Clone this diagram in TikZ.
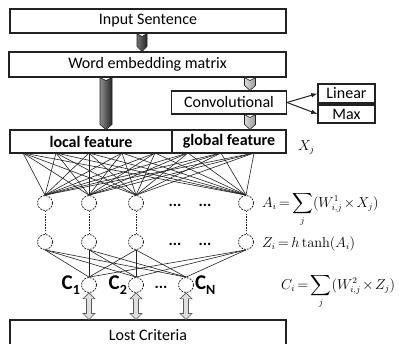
\documentclass[tikz,border=0pt]{standalone}
\usepackage{amsmath}
\usepackage[no-math]{fontspec}
\setmainfont{Carlito}
\usepackage{tikz}
\usetikzlibrary{arrows.meta,calc}
\definecolor{ink}{HTML}{222222}

\newcommand\tightmath{\thickmuskip=3mu\relax\medmuskip=2mu\relax}
% shaded block arrow with a notch on top
\newcommand\pencil[6]{%
  \shade[left color=#4, middle color=#5, right color=#6, draw=ink, line width=0.6pt]
    let \p1=#1, \p2=#2 in
    (\x1-#3,\y1) -- (\x1,\y1-3pt) -- (\x1+#3,\y1) -- (\x1+#3,\y2+5pt)
    -- (\x1,\y2) -- (\x1-#3,\y2+5pt) -- cycle;}
% hollow two-headed arrow
\newcommand\twoway[2]{%
  \filldraw[fill=gray!25, draw=ink!75, line width=0.6pt]
    let \p1=#1, \p2=#2 in
    (\x1,\y1) -- (\x1+6pt,\y1-6pt) -- (\x1+2.5pt,\y1-6pt) -- (\x1+2.5pt,\y2+6pt)
    -- (\x1+6pt,\y2+6pt) -- (\x1,\y2) -- (\x1-6pt,\y2+6pt) -- (\x1-2.5pt,\y2+6pt)
    -- (\x1-2.5pt,\y1-6pt) -- (\x1-6pt,\y1-6pt) -- cycle;}

\begin{document}
\begin{tikzpicture}[x=1pt, y=-1pt,
  font=\fontsize{16}{18}\selectfont,
  box/.style={draw=ink, line width=1.1pt, fill=white, minimum height=23pt, inner sep=0pt},
  unit/.style={circle, draw=ink, dash pattern=on 1.8pt off 1.2pt, line width=0.8pt, fill=white, minimum size=15pt, inner sep=0pt},
  link/.style={draw=ink, line width=0.6pt},
  arrow/.style={-{Latex[length=2.2mm]}, draw=ink, line width=1pt},
  eqn/.style={anchor=base west, inner sep=0pt, font=\fontsize{13.5}{16}\selectfont},
  dots/.style={anchor=base, inner sep=0pt, font=\fontsize{16}{18}\selectfont\bfseries}
]
\useasboundingbox (0,0) rectangle (399,343);

\node[box, minimum width=276pt, minimum height=24pt] (inp) at (148,21) {Input Sentence};
\node[box, minimum width=277pt, minimum height=25pt] (emb) at (147.5,64.5) {Word embedding matrix};
\node[box, minimum width=115pt] (conv) at (229,102.5) {Convolutional};
\node[box, minimum width=57pt, minimum height=19pt] (lin) at (346.5,93.5) {Linear};
\node[box, minimum width=57pt, minimum height=18pt] (max) at (346.5,114) {Max};
\node[box, minimum width=162pt] (loc) at (91,141.5) {\bfseries local feature};
\node[box, minimum width=114pt] (glob) at (229,141.5) {\bfseries global feature};
\node[box, minimum width=276pt, minimum height=30pt] (lost) at (148,335) {Lost Criteria};

\draw[arrow] (conv.east) -- (lin.west);
\draw[arrow] (conv.east) -- (max.west);

\pencil{([xshift=-6pt]inp.south)}{(emb.north)}{5pt}{black!55}{black!25}{black!85}
\pencil{([xshift=-41.5pt]emb.south)}{(loc.north)}{6pt}{black!45}{black!20}{black!85}
\pencil{([xshift=102.5pt]emb.south)}{(conv.north)}{5.5pt}{black!15}{black!5}{black!40}
\pencil{([xshift=21pt]conv.south)}{(glob.north)}{5.5pt}{black!15}{black!5}{black!40}

\node[eqn] (xj) at (298,150) {$X_j$};

% hidden units
\foreach \i/\x in {1/45,2/89,3/136,4/246} {
  \node[unit] (a\i) at (\x,203) {};
  \node[unit] (z\i) at (\x,242) {};
  \draw[link, dash pattern=on 1.5pt off 1.2pt] (a\i.south) -- (z\i.north);
}
\foreach \i/\x in {1/89,2/136,3/186}
  \node[unit] (c\i) at (\x,285) {};

\foreach \k in {0,...,7} {
  \coordinate (f\k) at (23+33*\k,153);
  \foreach \i in {1,2,3,4}
    \draw[link] (f\k) -- (a\i.north);
}
\foreach \m in {1,2,3,4}
  \foreach \i in {1,2,3}
    \draw[link] (z\m.south) -- (c\i.north);

\node[dots] (da1) at (175,206) {...};
\node[dots] (da2) at (205,206) {...};
\node[dots] (dz1) at (175,245) {...};
\node[dots] (dz2) at (205,245) {...};
\node[dots] (dc) at (161,288) {...};

\node[anchor=east, inner sep=1pt, font=\fontsize{21}{24}\selectfont\bfseries] (lc1) at (c1.west) {C\raisebox{-5pt}{\fontsize{14}{15}\selectfont 1}};
\node[anchor=east, inner sep=1pt, font=\fontsize{21}{24}\selectfont\bfseries] (lc2) at (c2.west) {C\raisebox{-5pt}{\fontsize{14}{15}\selectfont 2}};
\node[anchor=west, inner sep=1pt, font=\fontsize{21}{24}\selectfont\bfseries] (lcn) at (c3.east) {C\raisebox{-5pt}{\fontsize{14}{15}\selectfont N}};

\foreach \i in {1,2,3} {
  \twoway{(c\i.south)}{(c\i.south |- lost.north)}
}

\node[eqn] (eqa) at (262,207) {\tightmath$\displaystyle A_i = \sum_j (W^1_{i,j} \times X_j)$};
\node[eqn] (eqz) at (262,247) {\tightmath$Z_i = h\tanh(A_i)$};
\node[eqn] (eqc) at (281,289) {\tightmath$\displaystyle C_i = \sum_j (W^2_{i,j} \times Z_j)$};
\end{tikzpicture}
\end{document}
